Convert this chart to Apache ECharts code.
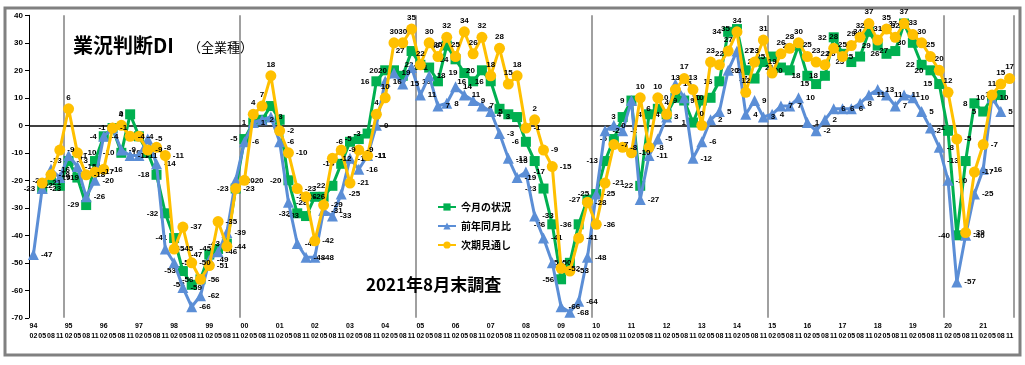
<!DOCTYPE html>
<html><head><meta charset="utf-8">
<script src="https://cdn.jsdelivr.net/npm/echarts@6/dist/echarts.min.js"></script>
<style>html,body{margin:0;padding:0;background:#fff}#c{width:1025px;height:365px}</style>
</head><body><div id="c"></div>
<script>
const years = ['94','95','96','97','98','99','00','01','02','03','04','05','06','07','08','09','10','11','12','13','14','15','16','17','18','19','20','21'];
const quarters = ['02','05','08','11'];
const yTicks = [40,30,20,10,0,-10,-20,-30,-40,-50,-60,-70];
const seriesNames = ['今月の状況','前年同月比','次期見通し'];
// 今月の状況
const green = [
 null,-23,-20,-22,  -13,-19,-29,-13,  -4,-1,-10,4,  -4,-10,-18,-32,
 -41,-53,-58,-56,  -47,-45,-43,-23,  -5,1,2,7,  2,-20,-32,-33,
 -26,-26,-22,-14,  -6,-5,-3,16,  20,20,18,27,  22,21,16,29,
 24,19,16,20,  16,6,4,3,  -6,-13,-23,-36,  -56,-50,-36,-27,
 -25,-13,-5,3,  9,-22,4,6,  4,10,9,1,  9,10,16,34,
 35,20,17,23,  25,21,20,29,  18,15,18,32,  26,23,25,34,
 29,26,27,37,  30,22,20,15,  -2,-40,-13,8,  5,10,11,null
];
// 前年同月比
const blue = [
 -47,-23,-16,-19,  -11,-15,-26,-20,  -4,-1,-9,-11,  -11,-5,-14,-45,
 -50,-59,-66,-62,  -49,-46,-39,-20,  -6,1,2,3,  -6,-28,-43,-48,
 -48,-31,-33,-25,  -12,-16,-11,0,  16,19,15,21,  11,18,7,8,
 14,11,9,7,  5,-3,-12,-19,  -17,-33,-41,-50,  -66,-68,-64,-48,
 -25,-2,0,-2,  9,-27,-11,-5,  3,15,10,-12,  -6,2,5,20,
 27,4,9,3,  4,7,7,10,  1,-2,2,6,  6,6,8,11,
 13,11,7,11,  10,5,-1,-8,  -20,-57,-40,-25,  -16,10,5,null
];
// 次期見通し
const yellow = [
 null,-21,-18,-9,  6,-10,-18,-17,  -16,-1,0,-4,  -4,-9,-8,-11,
 -45,-37,-50,-56,  -51,-35,-44,-23,  -20,4,7,18,  -2,-10,-23,-26,
 -42,-29,-12,-9,  -21,-9,-11,4,  10,30,30,35,  22,30,25,32,
 25,34,26,32,  18,28,15,18,  -1,2,-9,-15,  -52,-53,-41,-28,
 -36,-21,-7,-8,  -10,10,-8,10,  4,13,17,13,  0,23,22,27,
 34,12,23,31,  19,26,28,30,  25,23,22,28,  25,29,32,37,
 31,35,32,37,  33,30,25,20,  12,-5,-39,-17,  -7,11,15,17
];

const cats = [];
years.forEach(y => quarters.forEach(q => cats.push(y + '-' + q)));

const numFont = 'Liberation Sans, Arial, sans-serif';
const jpFont = 'Noto Sans CJK JP, sans-serif';
const lblBase = {show:true, fontSize:8, fontWeight:'bold', color:'#000', fontFamily:numFont, distance:2};

function mk(name, data, color, symbol, size, posFn, z) {
  return {
    name, type:'line', data: data.map(v => v == null ? null : {value:v, label:{position:posFn(v)}}),
    symbol, symbolSize:size, z,
    lineStyle:{color, width:3}, itemStyle:{color},
    label: Object.assign({}, lblBase),
    connectNulls:false, animation:false
  };
}

const chart = echarts.init(document.getElementById('c'), null, {renderer:'canvas'});
const sG = mk(seriesNames[0], green, '#00B050', 'rect', 10, v => 'left', 2);
sG.markLine = {silent:true, symbol:'none', label:{show:false}, lineStyle:{color:'#000', width:1.5, type:'solid'}, data:[{yAxis:0}], z:1};
const sB = mk(seriesNames[1], blue, '#5B8ED6', 'triangle', 11, v => 'right', 3);
const sY = mk(seriesNames[2], yellow, '#FFC000', 'circle', 11, v => v >= 0 ? 'top' : 'right', 4);

chart.setOption({
  backgroundColor:'#fff',
  animation:false,
  grid:{left:29, right:11, top:15.3, bottom:47.2, containLabel:false},
  title:[
    {text:'業況判断DI', left:68, top:30, textStyle:{fontSize:20, fontWeight:'bold', color:'#000', fontFamily:jpFont}},
    {text:'（全業種）', left:183, top:36, textStyle:{fontSize:13, fontWeight:'normal', color:'#000', fontFamily:jpFont}},
    {text:'2021年8月末調査', left:361, top:271, textStyle:{fontSize:17, fontWeight:'bold', color:'#000', fontFamily:jpFont}}
  ],
  legend:{
    orient:'vertical', left:432, top:197, itemGap:9, itemWidth:18, itemHeight:9,
    textStyle:{fontSize:10, fontWeight:'bold', color:'#000', fontFamily:jpFont},
    data:seriesNames
  },
  xAxis:{
    type:'category', data:cats, boundaryGap:true,
    axisLine:{show:false}, axisTick:{show:false},
    splitLine:{show:true, interval:(i) => i > 0 && (i - 4) % 20 === 0, lineStyle:{color:'#808080', width:1.5}},
    axisLabel:{
      interval:0, hideOverlap:false, margin:3,
      formatter:(v) => { const [y,q] = v.split('-'); return (q === '02' ? '{y|' + y + '}' : '{y| }') + '\n{q|' + q + '}'; },
      rich:{
        y:{fontSize:7, fontWeight:'bold', color:'#000', fontFamily:numFont, lineHeight:10},
        q:{fontSize:7, fontWeight:'bold', color:'#000', fontFamily:numFont, lineHeight:10}
      }
    }
  },
  yAxis:{
    type:'value', min:yTicks[yTicks.length-1], max:yTicks[0], interval:10,
    axisLine:{show:true, lineStyle:{color:'#000', width:1}},
    axisTick:{show:true, length:4, lineStyle:{color:'#000'}},
    splitLine:{show:false},
    axisLabel:{fontSize:8, fontWeight:'bold', color:'#000', fontFamily:numFont, margin:6}
  },
  graphic:[
    {type:'rect', shape:{x:5, y:8, width:1015, height:347}, style:{fill:'none', stroke:'#808080', lineWidth:3}, silent:true, z:-1}
  ],
  series:[sG, sB, sY]
});
</script>
</body></html>
